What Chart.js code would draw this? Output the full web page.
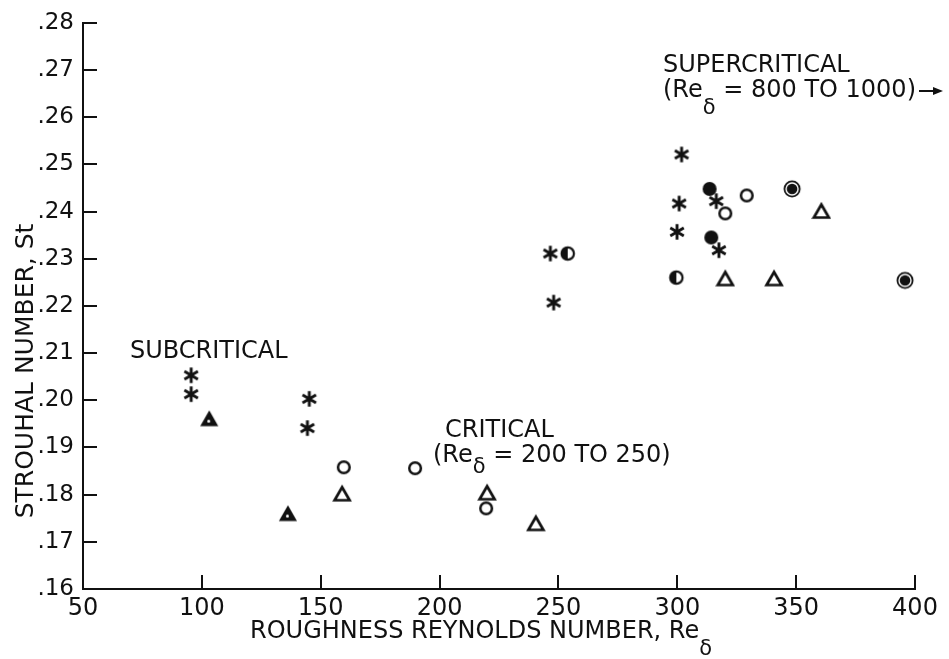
<!DOCTYPE html>
<html>
<head>
<meta charset="utf-8">
<title>Strouhal number vs roughness Reynolds number</title>
<script src="https://cdn.jsdelivr.net/npm/chart.js@4.4.0/dist/chart.umd.min.js"></script>
<style>
  html, body { margin: 0; padding: 0; background: #fff; }
  canvas { display: block; }
</style>
</head>
<body>
<canvas id="chart" width="949" height="659"></canvas>
<script>
// Axis ticks
const xTicks = [50, 100, 150, 200, 250, 300, 350, 400];
const yTicks = [0.16, 0.17, 0.18, 0.19, 0.20, 0.21, 0.22, 0.23, 0.24, 0.25, 0.26, 0.27, 0.28];

// Points, one pair of arrays per marker type
const starX = [95.5, 95.5, 145.2, 144.4, 246.6, 248, 301.8, 300.8, 316.4, 299.9, 317.5];
const starY = [0.2053, 0.2013, 0.2003, 0.1941, 0.2311, 0.2207, 0.2521, 0.2417, 0.2422, 0.2357, 0.2318];

const openCircleX = [159.7, 189.7, 219.6, 320.2, 329.2];
const openCircleY = [0.1858, 0.1856, 0.1771, 0.2396, 0.2434];

const solidCircleX = [313.6, 314.3];
const solidCircleY = [0.2448, 0.2345];

const halfCircleX = [253.9, 299.6];
const halfCircleY = [0.2311, 0.2260];

const dotCircleX = [348.3, 395.8];
const dotCircleY = [0.2448, 0.2254];

const openTriX = [159, 220, 240.5, 320.2, 340.7, 360.6];
const openTriY = [0.1802, 0.1804, 0.1739, 0.2258, 0.2258, 0.2401];

const solidTriX = [103.1, 136.2];
const solidTriY = [0.1961, 0.1760];

const INK = "#111";
const FONT = "DejaVu Sans";

// small canvases used as point styles
function marker(size, draw) {
  const c = document.createElement("canvas");
  c.width = size;
  c.height = size;
  const g = c.getContext("2d");
  g.strokeStyle = INK;
  g.fillStyle = INK;
  draw(g, size / 2);
  return c;
}

const starImg = marker(20, (g, c) => {
  g.lineWidth = 2.9;
  g.beginPath();
  [90, 30, 150].forEach(a => {
    const r = a * Math.PI / 180;
    const dx = Math.cos(r) * 7.8, dy = Math.sin(r) * 7.8;
    g.moveTo(c - dx, c - dy);
    g.lineTo(c + dx, c + dy);
  });
  g.stroke();
});

const openCircleImg = marker(18, (g, c) => {
  g.lineWidth = 2.5;
  g.beginPath();
  g.arc(c, c, 5.8, 0, Math.PI * 2);
  g.stroke();
});

const solidCircleImg = marker(18, (g, c) => {
  g.beginPath();
  g.arc(c, c, 7, 0, Math.PI * 2);
  g.fill();
});

const halfCircleImg = marker(18, (g, c) => {
  g.lineWidth = 2.2;
  g.beginPath();
  g.arc(c, c, 6.2, 0, Math.PI * 2);
  g.stroke();
  g.beginPath();
  g.arc(c, c, 6.5, Math.PI / 2, Math.PI * 1.5);
  g.closePath();
  g.fill();
});

const dotCircleImg = marker(22, (g, c) => {
  g.beginPath();
  g.arc(c, c, 8.5, 0, Math.PI * 2);
  g.fill();
  g.strokeStyle = "#fff";
  g.lineWidth = 1.4;
  g.beginPath();
  g.arc(c, c, 6, 0, Math.PI * 2);
  g.stroke();
});

function triPath(g, c) {
  g.beginPath();
  g.moveTo(c, c - 6.5);
  g.lineTo(c + 7.5, c + 6.5);
  g.lineTo(c - 7.5, c + 6.5);
  g.closePath();
}

const openTriImg = marker(20, (g, c) => {
  g.lineWidth = 2.7;
  triPath(g, c);
  g.stroke();
});

const solidTriImg = marker(20, (g, c) => {
  g.lineWidth = 1.8;
  triPath(g, c);
  g.fill();
  g.stroke();
  g.fillStyle = "#fff";
  g.beginPath();
  g.arc(c - 0.5, c + 2.5, 1.5, 0, Math.PI * 2);
  g.fill();
});

function pts(xs, ys) {
  return xs.map((x, i) => ({ x: x, y: ys[i] }));
}

function series(label, xs, ys, img) {
  return { label: label, data: pts(xs, ys), pointStyle: img, clip: false };
}

// ticks point into the plot, like on the original figure
const inwardTicks = {
  id: "inwardTicks",
  beforeDraw(chart) {
    const ctx = chart.ctx;
    ctx.save();
    ctx.fillStyle = "#fff";
    ctx.fillRect(0, 0, chart.width, chart.height);
    ctx.restore();
  },
  afterDraw(chart) {
    const { ctx, chartArea: a, scales: { x, y } } = chart;
    ctx.save();
    ctx.strokeStyle = INK;
    ctx.lineWidth = 2;
    ctx.beginPath();
    xTicks.forEach(v => {
      if (v === x.min) return;
      const px = Math.round(x.getPixelForValue(v));
      ctx.moveTo(px, a.bottom);
      ctx.lineTo(px, a.bottom - 14);
    });
    yTicks.forEach(v => {
      if (v === y.min) return;
      const py = Math.round(y.getPixelForValue(v));
      ctx.moveTo(a.left, py);
      ctx.lineTo(a.left + 14, py);
    });
    ctx.stroke();
    ctx.restore();
  }
};

function setFont(ctx, px) {
  ctx.font = px + "px '" + FONT + "'";
}

// text with a subscript delta after "Re"
function drawRe(ctx, x, y, size, before, after, drop) {
  setFont(ctx, size);
  ctx.fillText(before, x, y);
  let w = ctx.measureText(before).width;
  setFont(ctx, 21);
  ctx.fillText("δ", x + w, y + drop);
  w += ctx.measureText("δ").width;
  setFont(ctx, size);
  ctx.fillText(after, x + w, y);
  w += ctx.measureText(after).width;
  return x + w;
}

const notes = [
  { text: "SUBCRITICAL", x: 130, y: 358 },
  { text: "CRITICAL", x: 445, y: 437 },
  { pre: "(Re", post: " = 200 TO 250)", x: 433, y: 462, drop: 11 },
  { text: "SUPERCRITICAL", x: 663, y: 72 },
  { pre: "(Re", post: " = 800 TO 1000)", x: 663, y: 97, drop: 17, arrowTo: 943 }
];

const labels = {
  id: "labels",
  afterDraw(chart) {
    const ctx = chart.ctx;
    ctx.save();
    ctx.fillStyle = INK;
    ctx.strokeStyle = INK;
    ctx.textAlign = "left";
    ctx.textBaseline = "alphabetic";

    notes.forEach(n => {
      if (n.text) {
        setFont(ctx, 24);
        ctx.fillText(n.text, n.x, n.y);
        return;
      }
      const end = drawRe(ctx, n.x, n.y, 24, n.pre, n.post, n.drop);
      if (n.arrowTo) {
        const ay = n.y - 6;
        ctx.lineWidth = 2;
        ctx.beginPath();
        ctx.moveTo(end + 3, ay);
        ctx.lineTo(n.arrowTo - 6, ay);
        ctx.stroke();
        ctx.beginPath();
        ctx.moveTo(n.arrowTo, ay);
        ctx.lineTo(n.arrowTo - 10, ay - 4);
        ctx.lineTo(n.arrowTo - 10, ay + 4);
        ctx.closePath();
        ctx.fill();
      }
    });

    // axis titles
    drawRe(ctx, 250, 638, 24, "ROUGHNESS REYNOLDS NUMBER, Re", "", 17);

    ctx.translate(33, 371);
    ctx.rotate(-Math.PI / 2);
    ctx.textAlign = "center";
    setFont(ctx, 25);
    ctx.fillText("STROUHAL NUMBER, St", 0, 0);
    ctx.restore();
  }
};

new Chart(document.getElementById("chart"), {
  type: "scatter",
  data: {
    datasets: [
      series("asterisk", starX, starY, starImg),
      series("open circle", openCircleX, openCircleY, openCircleImg),
      series("solid circle", solidCircleX, solidCircleY, solidCircleImg),
      series("half circle", halfCircleX, halfCircleY, halfCircleImg),
      series("dotted circle", dotCircleX, dotCircleY, dotCircleImg),
      series("open triangle", openTriX, openTriY, openTriImg),
      series("solid triangle", solidTriX, solidTriY, solidTriImg)
    ]
  },
  options: {
    responsive: false,
    animation: false,
    events: [],
    devicePixelRatio: 1,
    layout: { padding: { top: 15, right: 34, left: 0, bottom: 0 } },
    plugins: {
      legend: { display: false },
      tooltip: { enabled: false }
    },
    scales: {
      x: {
        type: "linear",
        min: 50,
        max: 400,
        afterBuildTicks: s => { s.ticks = xTicks.map(v => ({ value: v })); },
        afterFit: s => { s.height = 70; },
        grid: { display: false, drawTicks: false },
        border: { display: true, color: INK, width: 2 },
        ticks: {
          color: INK,
          font: { family: FONT, size: 24 },
          padding: 5,
          maxRotation: 0,
          autoSkip: false,
          callback: v => String(v)
        }
      },
      y: {
        type: "linear",
        min: 0.16,
        max: 0.28,
        afterBuildTicks: s => { s.ticks = yTicks.map(v => ({ value: v })); },
        afterFit: s => { s.width = 83; },
        grid: { display: false, drawTicks: false },
        border: { display: true, color: INK, width: 2 },
        ticks: {
          color: INK,
          font: { family: FONT, size: 23 },
          padding: 9,
          autoSkip: false,
          callback: v => v.toFixed(2).slice(1)
        }
      }
    }
  },
  plugins: [inwardTicks, labels]
});
</script>
</body>
</html>
